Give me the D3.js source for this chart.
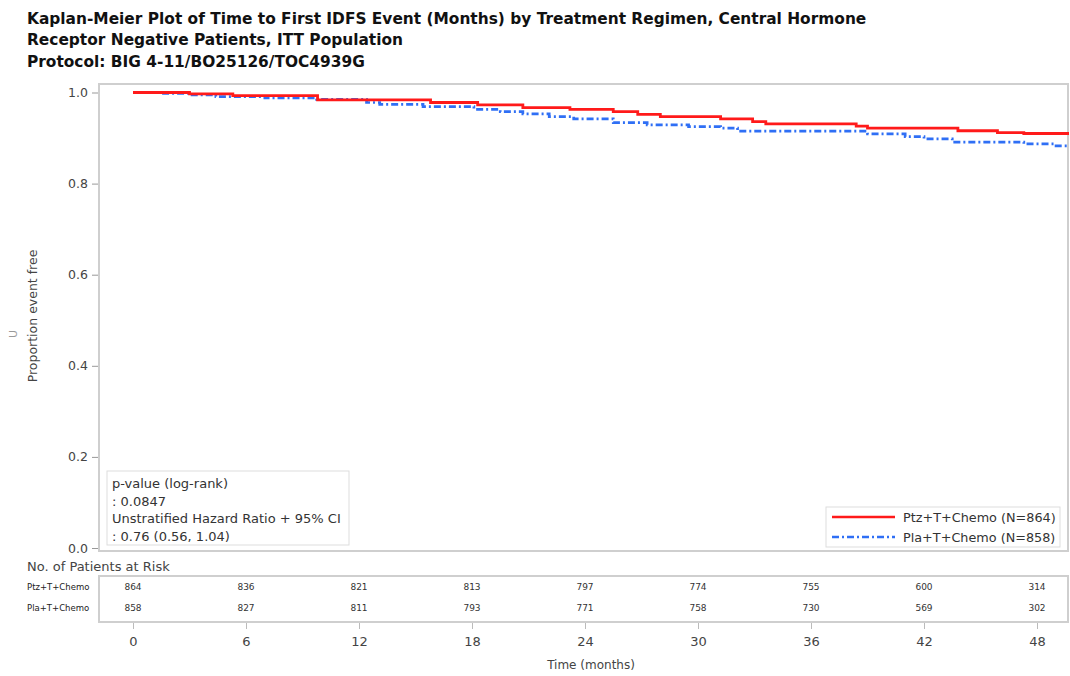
<!DOCTYPE html>
<html>
<head>
<meta charset="utf-8">
<script src="https://cdn.jsdelivr.net/npm/d3@7"></script>
<style>
  body { margin: 0; background: #fff; }
  text { font-family: "DejaVu Sans", Verdana, sans-serif; }
</style>
</head>
<body>
<div id="chart-area"></div>
<script>
// KM step data
var ptzTime = [0, 3.0, 5.3, 9.8, 15.8, 18.3, 20.7, 23.2, 25.5, 26.8, 28.0, 31.2, 32.9, 33.6, 38.4, 39.0, 43.8, 45.9, 47.3, 49.7];
var ptzSurv = [1.0, 0.997, 0.993, 0.984, 0.978, 0.973, 0.967, 0.963, 0.958, 0.952, 0.947, 0.942, 0.936, 0.931, 0.926, 0.922, 0.916, 0.912, 0.910, 0.910];
var plaTime = [0, 1.5, 3.0, 4.4, 7.0, 9.75, 12.4, 13.1, 15.4, 18.1, 19.5, 20.7, 22.1, 23.4, 25.5, 27.3, 29.5, 31.2, 32.1, 39.0, 41.0, 42.0, 43.5, 47.3, 48.9, 49.7];
var plaSurv = [1.0, 0.998, 0.995, 0.991, 0.988, 0.985, 0.978, 0.974, 0.969, 0.963, 0.958, 0.953, 0.947, 0.942, 0.934, 0.929, 0.925, 0.922, 0.915, 0.909, 0.903, 0.898, 0.891, 0.887, 0.883, 0.883];

var timeTicks = [0, 6, 12, 18, 24, 30, 36, 42, 48];
var survTicks = [0.0, 0.2, 0.4, 0.6, 0.8, 1.0];
var riskLabels = ["Ptz+T+Chemo", "Pla+T+Chemo"];
var ptzRisk = [864, 836, 821, 813, 797, 774, 755, 600, 314];
var plaRisk = [858, 827, 811, 793, 771, 758, 730, 569, 302];
var legendLabels = ["Ptz+T+Chemo (N=864)", "Pla+T+Chemo (N=858)"];
var titleLines = [
  "Kaplan-Meier Plot of Time to First IDFS Event (Months) by Treatment Regimen, Central Hormone",
  "Receptor Negative Patients, ITT Population",
  "Protocol: BIG 4-11/BO25126/TOC4939G"
];

var W = 1070, H = 676;
var frame = {left: 99, top: 84, right: 1068, bottom: 551};

var svg = d3.select("#chart-area").append("svg")
    .attr("width", W)
    .attr("height", H);

var x = d3.scaleLinear().domain([0, 48]).range([133, 1037]);
var y = d3.scaleLinear().domain([0, 1]).range([548, 92.5]);

// title
svg.selectAll(".title")
    .data(titleLines)
  .enter().append("text")
    .attr("class", "title")
    .attr("x", 27)
    .attr("y", (d, i) => 23.5 + i * 21.5)
    .attr("font-size", "15.4px")
    .attr("font-weight", "bold")
    .attr("fill", "#111")
    .text(d => d);

// plot frame
svg.append("rect")
    .attr("x", frame.left)
    .attr("y", frame.top)
    .attr("width", frame.right - frame.left)
    .attr("height", frame.bottom - frame.top)
    .attr("fill", "none")
    .attr("stroke", "#cfcfcf")
    .attr("stroke-width", 2);

// y axis
var yAxis = svg.append("g")
    .attr("transform", "translate(" + (frame.left - 1) + ",0)")
    .call(d3.axisLeft(y).tickValues(survTicks).tickFormat(d3.format(".1f")).tickSize(6).tickPadding(4));
yAxis.select(".domain").remove();
yAxis.selectAll("line").attr("stroke", "#999");
yAxis.selectAll("text")
    .attr("font-size", "12.5px")
    .attr("fill", "#444")
    .style("font-family", "'DejaVu Sans', Verdana, sans-serif");

svg.append("text")
    .attr("transform", "translate(37,316) rotate(-90)")
    .attr("text-anchor", "middle")
    .attr("font-size", "12.5px")
    .attr("fill", "#444")
    .text("Proportion event free");

svg.append("text")
    .attr("transform", "translate(17,334) rotate(-90)")
    .attr("text-anchor", "middle")
    .attr("font-size", "11px")
    .attr("fill", "#999")
    .text("U");

// curves
var line = d3.line()
    .x(d => x(d[0]))
    .y(d => y(d[1]))
    .curve(d3.curveStepAfter);

var plaData = d3.zip(plaTime, plaSurv);
var ptzData = d3.zip(ptzTime, ptzSurv);

svg.append("path")
    .datum(plaData)
    .attr("d", line)
    .attr("fill", "none")
    .attr("stroke", "#2f6ff5")
    .attr("stroke-width", 2.7)
    .attr("stroke-dasharray", "7,3,2,3");

svg.append("path")
    .datum(ptzData)
    .attr("d", line)
    .attr("fill", "none")
    .attr("stroke", "#ff1a1a")
    .attr("stroke-width", 2.8);

// stats box
var statLines = ["p-value (log-rank)", ": 0.0847", "Unstratified Hazard Ratio + 95% CI", ": 0.76 (0.56, 1.04)"];
svg.append("rect")
    .attr("x", 107).attr("y", 471)
    .attr("width", 242).attr("height", 74)
    .attr("fill", "#fff")
    .attr("stroke", "#ddd");
svg.selectAll(".stat")
    .data(statLines)
  .enter().append("text")
    .attr("class", "stat")
    .attr("x", 112)
    .attr("y", (d, i) => 488 + i * 17.5)
    .attr("font-size", "13px")
    .attr("fill", "#333")
    .text(d => d);

// legend
var legend = svg.append("g");
legend.append("rect")
    .attr("x", 826).attr("y", 507)
    .attr("width", 234).attr("height", 40)
    .attr("fill", "#fff")
    .attr("stroke", "#ddd");
var legStyles = [
  {color: "#ff1a1a", dash: null},
  {color: "#2f6ff5", dash: "7,3,2,3"}
];
legendLabels.forEach((lab, i) => {
  var ly = 517 + i * 20;
  legend.append("line")
      .attr("x1", 832).attr("x2", 895)
      .attr("y1", ly).attr("y2", ly)
      .attr("stroke", legStyles[i].color)
      .attr("stroke-width", 2.7)
      .attr("stroke-dasharray", legStyles[i].dash);
  legend.append("text")
      .attr("x", 903).attr("y", ly + 4.5)
      .attr("font-size", "12.8px")
      .attr("fill", "#333")
      .text(lab);
});

// risk table
svg.append("text")
    .attr("x", 27).attr("y", 571)
    .attr("font-size", "13px")
    .attr("fill", "#444")
    .text("No. of Patients at Risk");

svg.append("rect")
    .attr("x", frame.left).attr("y", 576)
    .attr("width", frame.right - frame.left).attr("height", 46)
    .attr("fill", "none")
    .attr("stroke", "#cfcfcf")
    .attr("stroke-width", 2);

var riskRows = [ptzRisk, plaRisk];
riskRows.forEach((row, r) => {
  var ry = 590 + r * 21;
  svg.append("text")
      .attr("x", 27).attr("y", ry)
      .attr("font-size", "8.5px")
      .attr("fill", "#222")
      .text(riskLabels[r]);
  svg.selectAll(".risk" + r)
      .data(row)
    .enter().append("text")
      .attr("class", "risk" + r)
      .attr("x", (d, i) => x(timeTicks[i]))
      .attr("y", ry)
      .attr("text-anchor", "middle")
      .attr("font-size", "9px")
      .attr("fill", "#333")
      .text(d => d);
});

// x axis
var xAxis = svg.append("g")
    .attr("transform", "translate(0,623)")
    .call(d3.axisBottom(x).tickValues(timeTicks).tickSize(6).tickPadding(8));
xAxis.select(".domain").remove();
xAxis.selectAll("line").attr("stroke", "#bbb");
xAxis.selectAll("text")
    .attr("font-size", "13px")
    .attr("fill", "#444")
    .style("font-family", "'DejaVu Sans', Verdana, sans-serif");

svg.append("text")
    .attr("x", 591).attr("y", 669)
    .attr("text-anchor", "middle")
    .attr("font-size", "12px")
    .attr("fill", "#444")
    .text("Time (months)");
</script>
</body>
</html>
